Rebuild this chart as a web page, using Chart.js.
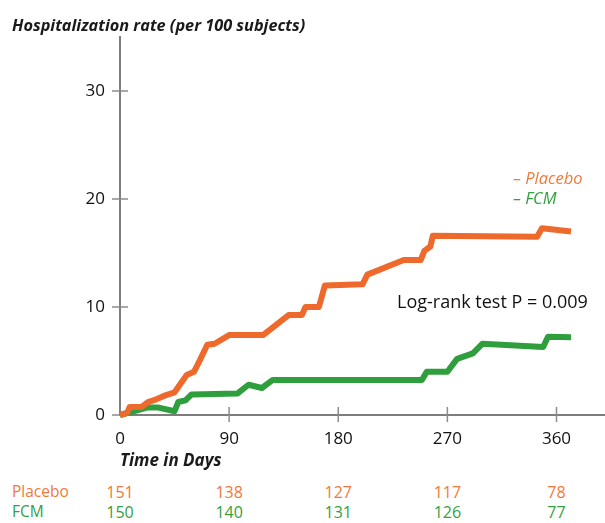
<!DOCTYPE html>
<html>
<head>
<meta charset="utf-8">
<script src="https://cdn.jsdelivr.net/npm/chart.js@4.4.1/dist/chart.umd.min.js"></script>
<style>
  html, body { margin: 0; padding: 0; background: #fff; }
  body { width: 605px; height: 523px; position: relative; overflow: hidden; font-family: "Open Sans", sans-serif; }
  #wrap { position: absolute; left: 0; top: 0; width: 605px; height: 475px; }
  .txt { position: absolute; white-space: nowrap; line-height: 1; transform: translateY(-50%); }
  .title { left: 12px; top: 25px; font-size: 16.3px; font-weight: bold; font-style: italic; color: #1a1a1a; }
  .leg { left: 513px; font-size: 16.5px; font-style: italic; }
  .orange { color: #f07a3c; }
  .green { color: #35a043; }
  .logrank { left: 397px; top: 301px; font-size: 18px; color: #111; }
  .rowlab { left: 12px; font-size: 15.5px; }
  .num { font-size: 16px; transform: translate(-50%, -50%); }
</style>
</head>
<body>
<div id="wrap"><canvas id="kmChart"></canvas></div>
<div class="txt title">Hospitalization rate (per 100 subjects)</div>
<div class="txt leg orange" style="top:178px">– Placebo</div>
<div class="txt leg green" style="top:198px">– FCM</div>
<div class="txt logrank">Log-rank test P = 0.009</div>
<div class="txt rowlab orange" style="top:492px">Placebo</div>
<div class="txt rowlab green" style="top:512px">FCM</div>
<div id="table"></div>
<script>
// values
const placeboDays = [0, 6, 8, 18, 23, 30, 38, 45, 55, 61, 66, 72, 78, 90, 118, 139, 150, 153, 164, 169, 200, 204, 234, 248, 251, 256, 258, 344, 348, 372];
const placeboRate = [0, 0.2, 0.75, 0.75, 1.2, 1.45, 1.85, 2.1, 3.7, 4.0, 5.1, 6.5, 6.6, 7.4, 7.4, 9.25, 9.25, 10.0, 10.0, 12.0, 12.1, 13.0, 14.35, 14.35, 15.2, 15.6, 16.6, 16.5, 17.3, 17.0];
const fcmDays = [0, 23, 31, 45, 48, 54, 59, 97, 106, 117, 126, 249, 253, 270, 278, 291, 299, 349, 353, 372];
const fcmRate = [0, 0.7, 0.7, 0.35, 1.2, 1.35, 1.9, 2.0, 2.8, 2.5, 3.25, 3.25, 4.0, 4.0, 5.2, 5.7, 6.6, 6.3, 7.25, 7.2];

const xTicks = [0, 90, 180, 270, 360];
const yTicks = [0, 10, 20, 30];
const atRiskPlacebo = [151, 138, 127, 117, 78];
const atRiskFCM = [150, 140, 131, 126, 77];

const orange = '#ee6a2c';
const green = '#2f9e3c';
const axisGrey = '#7d7d7d';

const toPoints = (xs, ys) => xs.map((d, i) => ({ x: d, y: ys[i] }));

// tick marks that cross the axis lines
const crossTicks = {
  id: 'crossTicks',
  beforeDatasetsDraw(chart) {
    const { ctx, scales: { x, y } } = chart;
    ctx.save();
    ctx.strokeStyle = '#8c8c8c';
    ctx.lineWidth = 1.5;
    ctx.beginPath();
    x.ticks.forEach(t => {
      if (t.value === 0) return;
      const px = x.getPixelForValue(t.value);
      ctx.moveTo(px, y.bottom - 8);
      ctx.lineTo(px, y.bottom + 7);
    });
    y.ticks.forEach(t => {
      const py = y.getPixelForValue(t.value);
      ctx.moveTo(x.left - 8, py);
      ctx.lineTo(x.left + (t.value === 0 ? 0 : 8), py);
    });
    ctx.stroke();
    ctx.restore();
  }
};

const chart = new Chart(document.getElementById('kmChart'), {
  type: 'line',
  data: {
    datasets: [
      {
        label: 'Placebo',
        data: toPoints(placeboDays, placeboRate),
        borderColor: orange,
        borderWidth: 6,
        pointRadius: 0,
        tension: 0,
        borderJoinStyle: 'round',
        clip: 6
      },
      {
        label: 'FCM',
        data: toPoints(fcmDays, fcmRate),
        borderColor: green,
        borderWidth: 6,
        pointRadius: 0,
        tension: 0,
        borderJoinStyle: 'round',
        clip: 6
      }
    ]
  },
  options: {
    responsive: true,
    maintainAspectRatio: false,
    animation: false,
    layout: { padding: { top: 37, left: 0, right: 0, bottom: 0 } },
    scales: {
      x: {
        type: 'linear',
        min: 0,
        max: 400,
        afterBuildTicks: s => { s.ticks = xTicks.map(v => ({ value: v })); },
        afterFit: s => { s.height = 60; },
        grid: { display: false, drawTicks: false },
        border: { color: axisGrey, width: 2 },
        ticks: { color: '#111', font: { family: 'Open Sans', size: 17 }, padding: 14, maxRotation: 0 },
        title: {
          display: true,
          text: 'Time in Days',
          align: 'start',
          color: '#1a1a1a',
          font: { family: 'Open Sans', size: 17, weight: 'bold', style: 'italic' },
          padding: { top: 0, bottom: 4 }
        }
      },
      y: {
        min: 0,
        max: 35,
        afterBuildTicks: s => { s.ticks = yTicks.map(v => ({ value: v })); },
        afterFit: s => { s.width = 120; },
        grid: { display: false, drawTicks: false },
        border: { color: axisGrey, width: 2 },
        ticks: { color: '#111', font: { family: 'Open Sans', size: 17 }, padding: 15 }
      }
    },
    plugins: {
      legend: { display: false },
      tooltip: { enabled: false }
    }
  },
  plugins: [crossTicks]
});

// numbers at risk, placed under the x ticks
const table = document.getElementById('table');
xTicks.forEach((d, i) => {
  const px = chart.scales.x.getPixelForValue(d);
  [[atRiskPlacebo[i], 'orange', 492], [atRiskFCM[i], 'green', 512]].forEach(([n, cls, top]) => {
    const el = document.createElement('div');
    el.className = 'txt num ' + cls;
    el.style.left = px + 'px';
    el.style.top = top + 'px';
    el.textContent = n;
    table.appendChild(el);
  });
});
</script>
</body>
</html>
